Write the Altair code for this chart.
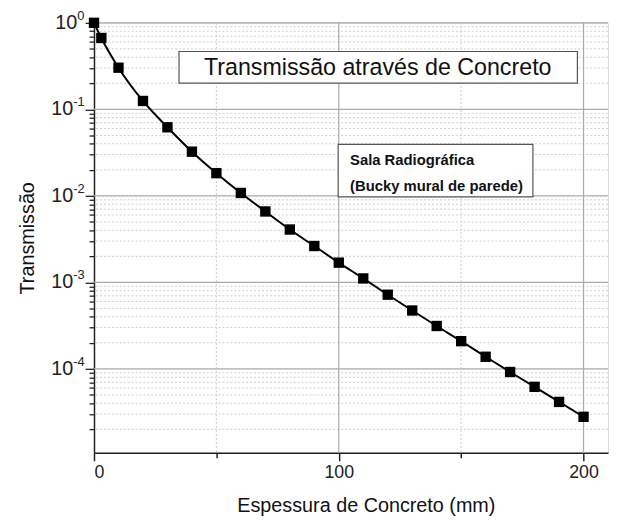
import altair as alt
import pandas as pd

# data
thickness = [0, 3, 10, 20, 30, 40, 50, 60, 70, 80, 90, 100, 110, 120, 130, 140, 150, 160, 170, 180, 190, 200]
transmission = [1.0, 0.668, 0.303, 0.125, 0.062, 0.0324, 0.0183, 0.0108, 0.0066, 0.00408, 0.00263, 0.00169,
                0.00111, 0.00072, 0.000473, 0.000313, 0.000209, 0.000138, 0.000092, 0.000062, 0.0000415, 0.0000279]

y_major = [1, 1e-1, 1e-2, 1e-3, 1e-4]
y_exponents = [0, -1, -2, -3, -4]
y_minor = [m * 10.0 ** e for e in range(-5, 0) for m in range(2, 10)]
y_minor = [v for v in y_minor if v > 1.07e-5]
x_ticks = [0, 50, 100, 150, 200]
x_grid_major = [100, 200]
x_minor = [50, 150]

title_text = "Transmissão através de Concreto"
note_lines = ["Sala Radiográfica", "(Bucky mural de parede)"]

W, H = 520, 435
FONT = "Liberation Sans"

df = pd.DataFrame({"x": thickness, "y": transmission})

xscale = alt.Scale(domain=[0, 210], nice=False, zero=False)
yscale = alt.Scale(type="log", domain=[1.07e-5, 1.0], nice=False)

is_x_major = "datum.value % 100 == 0"
is_y_major = "abs(log(datum.value)/LN10 - round(log(datum.value)/LN10)) < 0.001"

xenc = alt.X("x:Q", scale=xscale,
             axis=alt.Axis(values=x_ticks, title="Espessura de Concreto (mm)", grid=False,
                           labelExpr="datum.value % 100 == 0 ? datum.label : ''",
                           tickSize={"condition": {"test": is_x_major, "value": 8}, "value": 5},
                           tickColor="#222", tickWidth=1.5, domainColor="#222", domainWidth=1.5,
                           labelFont=FONT, labelFontSize=18, labelColor="#222", labelPadding=3,
                           titleFont=FONT, titleFontSize=20, titleFontWeight="normal", titleColor="#111",
                           titlePadding=14, titleX=275))
yenc = alt.Y("y:Q", scale=yscale,
             axis=alt.Axis(values=y_major + y_minor, title="Transmissão", grid=False, labels=False,
                           tickSize={"condition": {"test": is_y_major, "value": 9}, "value": 5},
                           tickColor="#222", tickWidth=1.3, domainColor="#222", domainWidth=1.5,
                           titleFont=FONT, titleFontSize=20, titleFontWeight="normal", titleColor="#111",
                           titlePadding=48))

# grid lines
gy_minor = alt.Chart(pd.DataFrame({"y": y_minor})).mark_rule(color="#cccccc", strokeDash=[2, 2], strokeWidth=1).encode(
    y=alt.Y("y:Q", scale=yscale))
gy_major = alt.Chart(pd.DataFrame({"y": y_major})).mark_rule(color="#aaaaaa", strokeWidth=1.2).encode(
    y=alt.Y("y:Q", scale=yscale))
gx_minor = alt.Chart(pd.DataFrame({"x": x_minor})).mark_rule(color="#cccccc", strokeDash=[2, 2], strokeWidth=1).encode(
    x=alt.X("x:Q", scale=xscale))
gx_major = alt.Chart(pd.DataFrame({"x": x_grid_major})).mark_rule(color="#aaaaaa", strokeWidth=1.2).encode(
    x=alt.X("x:Q", scale=xscale))

# y tick labels as 10 with superscript exponent
lab_df = pd.DataFrame({"y": y_major, "e": y_exponents})
lab_base = alt.Chart(lab_df).transform_calculate(
    sup="datum.e == 0 ? '0' : '-' + (-datum.e)",
    px="datum.e == 0 ? -17 : -21")
lab10 = lab_base.mark_text(font=FONT, fontSize=20, color="#222", align="right", baseline="middle").encode(
    y=alt.Y("y:Q", scale=yscale), x=alt.X("px:Q", scale=None), text=alt.value("10"))
labsup = lab_base.mark_text(font=FONT, fontSize=13, color="#222", align="left", baseline="middle", dy=-7).encode(
    y=alt.Y("y:Q", scale=yscale), x=alt.X("px:Q", scale=None), text="sup:N")

line = alt.Chart(df).mark_line(color="black", strokeWidth=2, interpolate="monotone", clip=False).encode(x=xenc, y=yenc)
pts = alt.Chart(df).mark_square(color="black", size=110, opacity=1, clip=False).encode(
    x=alt.X("x:Q", scale=xscale), y=alt.Y("y:Q", scale=yscale))

# annotation boxes
box1 = alt.Chart(pd.DataFrame({"t": [title_text]})).mark_rect(fill="white", stroke="#555", strokeWidth=1.2).encode(
    x=alt.value(86), x2=alt.value(489), y=alt.value(29), y2=alt.value(61))
txt1 = alt.Chart(pd.DataFrame({"t": [title_text]})).mark_text(font=FONT, fontSize=23.5, color="#111",
                                                               align="center", baseline="middle").encode(
    text="t:N", x=alt.value(287), y=alt.value(46))
box2 = alt.Chart(pd.DataFrame({"t": note_lines[:1]})).mark_rect(fill="white", stroke="#555", strokeWidth=1.2).encode(
    x=alt.value(247), x2=alt.value(444), y=alt.value(123), y2=alt.value(176))
txt2 = alt.Chart(pd.DataFrame({"t": note_lines, "yy": [139, 165]})).mark_text(
    font=FONT, fontSize=15, fontWeight="bold", color="#111", align="left", baseline="middle").encode(
    text="t:N", x=alt.value(259), y=alt.Y("yy:Q", scale=None))

chart = alt.layer(gy_minor, gx_minor, gy_major, gx_major, box1, txt1, box2, txt2, line, pts, lab10, labsup).properties(
    width=W, height=H,
    autosize=alt.AutoSizeParams(type="none"),
    padding={"left": 87, "top": 12, "right": 3, "bottom": 70}
).configure_view(strokeWidth=0).configure(background="white")

chart.save("out.html", embed_options={"renderer": "svg", "actions": False})
